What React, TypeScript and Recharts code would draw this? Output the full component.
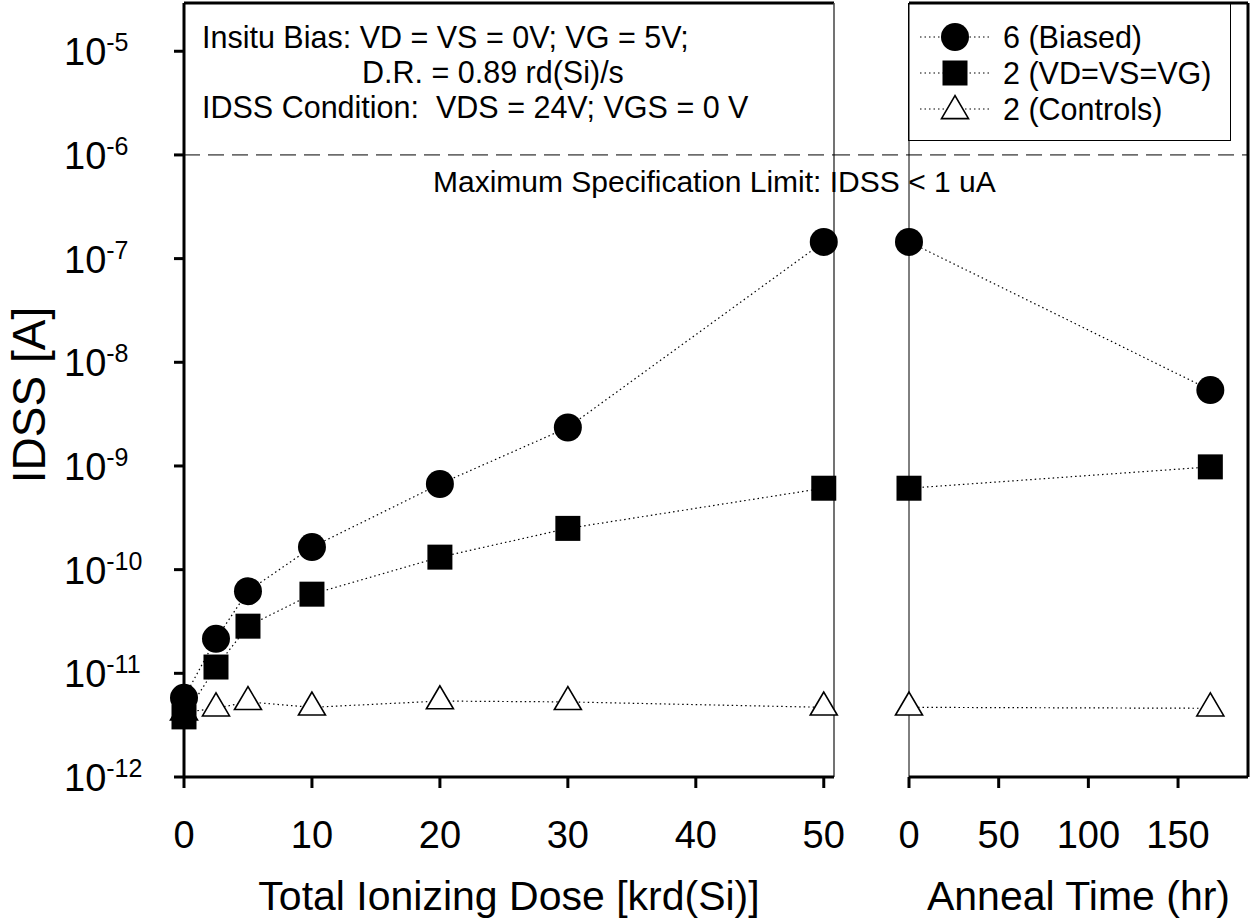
import React from 'react';
import { LineChart, Line, XAxis, YAxis, ReferenceLine, Legend, Label } from 'recharts';

// ---- data ----
const doseKrd = [0, 2.5, 5, 10, 20, 30, 50];
const biasedDose = [5.8e-12, 2.15e-11, 6.2e-11, 1.65e-10, 6.7e-10, 2.35e-9, 1.45e-7];
const groundedDose = [3.8e-12, 1.15e-11, 2.85e-11, 5.8e-11, 1.32e-10, 2.5e-10, 6.1e-10];
const controlsDose = [4.2e-12, 4.6e-12, 5.3e-12, 4.7e-12, 5.4e-12, 5.3e-12, 4.7e-12];

const annealHr = [0, 168];
const biasedAnneal = [1.45e-7, 5.4e-9];
const groundedAnneal = [6.1e-10, 9.8e-10];
const controlsAnneal = [4.7e-12, 4.6e-12];

const yTickExponents = [-12, -11, -10, -9, -8, -7, -6, -5];
const doseTicks = [0, 10, 20, 30, 40, 50];
const annealTicks = [0, 50, 100, 150];

const seriesNames = ['6 (Biased)', '2 (VD=VS=VG)', '2 (Controls)'];
const seriesShapes = ['circle', 'square', 'triangle'];

const specLimit = 1e-6;
const Y_MIN = 1e-12;
const Y_MAX = 2.92e-5;
const DOSE_MAX = 50.8;
const ANNEAL_MAX = 189;

const yTicks = yTickExponents.map((e) => Math.pow(10, e));

const doseRows = doseKrd.map((d, i) => ({
  x: d,
  biased: biasedDose[i],
  grounded: groundedDose[i],
  controls: controlsDose[i],
}));
const annealRows = annealHr.map((t, i) => ({
  x: t,
  biased: biasedAnneal[i],
  grounded: groundedAnneal[i],
  controls: controlsAnneal[i],
}));

const FONT = '"Liberation Sans", Arial, Helvetica, sans-serif';

// ---- marker shapes ----
const Marker = ({ shape, cx, cy }: { shape: string; cx: number; cy: number }) => {
  if (cx == null || cy == null || isNaN(cx) || isNaN(cy)) return null;
  if (shape === 'circle') return <circle cx={cx} cy={cy} r={14} fill="#000" />;
  if (shape === 'square')
    return <rect x={cx - 12.5} y={cy - 12.5} width={25} height={25} fill="#000" />;
  const h = 23;
  const w = 27;
  const pts = `${cx},${cy - (2 * h) / 3} ${cx - w / 2},${cy + h / 3} ${cx + w / 2},${cy + h / 3}`;
  return <polygon points={pts} fill="#fff" stroke="#000" strokeWidth={1.6} />;
};

const dotFor = (shape: string) => (p: any) => (
  <Marker key={`${shape}-${p.index}`} shape={shape} cx={p.cx} cy={p.cy} />
);

const YTick = (props: any) => {
  const { x, y, payload } = props;
  const e = Math.round(Math.log10(payload.value));
  return (
    <text x={x - 108} y={y + 14} fontSize={38} fontFamily={FONT} fill="#000">
      <tspan>10</tspan>
      <tspan fontSize={25} dy={-14}>
        {String(e)}
      </tspan>
    </text>
  );
};

const XTick = (props: any) => {
  const { x, y, payload } = props;
  return (
    <text x={x} y={y + 58} fontSize={38} fontFamily={FONT} fill="#000" textAnchor="middle">
      {payload.value}
    </text>
  );
};

const axisLineStyle = { stroke: '#000', strokeWidth: 3 };
const tickLineStyle = { stroke: '#000', strokeWidth: 3 };
const lineProps = {
  stroke: '#000',
  strokeWidth: 1.2,
  strokeDasharray: '1.5 3',
  isAnimationActive: false,
  type: 'linear' as const,
};

const LegendBox = () => (
  <div
    style={{
      position: 'absolute',
      left: 0,
      top: 0,
      width: 323,
      height: 138,
      border: '1px solid #000',
      boxSizing: 'border-box',
      background: 'transparent',
    }}
  >
    <svg width={321} height={136} style={{ display: 'block' }}>
      {seriesNames.map((n, i) => {
        const cy = 33 + i * 36;
        return (
          <g key={n}>
            <line x1={11} x2={81} y1={cy} y2={cy} stroke="#000" strokeWidth={1.2} strokeDasharray="1.5 3" />
            <Marker shape={seriesShapes[i]} cx={46} cy={i === 2 ? cy + 2 : cy} />
            <text x={94} y={cy + 11} fontSize={30.5} fontFamily={FONT} fill="#000">
              {n}
            </text>
          </g>
        );
      })}
    </svg>
  </div>
);

export default function App() {
  return (
    <div style={{ position: 'absolute', left: 0, top: 0, width: 1250, height: 922, background: '#fff', fontFamily: FONT }}>
      {/* Left panel: dose */}
      <div style={{ position: 'absolute', left: 0, top: 0 }}>
        <LineChart width={850} height={922} data={doseRows} margin={{ top: 3, right: 16, bottom: 0, left: 0 }}>
          <XAxis
            type="number"
            dataKey="x"
            domain={[0, DOSE_MAX]}
            ticks={doseTicks}
            height={145}
            axisLine={axisLineStyle}
            tickLine={tickLineStyle}
            tickSize={11}
            tick={<XTick />}
          >
            <Label
              content={(p: any) => {
                const vb = p.viewBox;
                return (
                  <text x={vb.x + vb.width / 2} y={vb.y + 133} textAnchor="middle" fontSize={41} fontFamily={FONT} fill="#000">
                    Total Ionizing Dose [krd(Si)]
                  </text>
                );
              }}
            />
          </XAxis>
          <YAxis
            type="number"
            scale="log"
            domain={[Y_MIN, Y_MAX]}
            ticks={yTicks}
            width={184}
            axisLine={axisLineStyle}
            tickLine={tickLineStyle}
            tickSize={10}
            tick={<YTick />}
          >
            <Label
              content={(p: any) => {
                const vb = p.viewBox;
                const cx = vb.x + 45;
                const cy = vb.y + vb.height / 2 + 5;
                return (
                  <text x={cx} y={cy} transform={`rotate(-90, ${cx}, ${cy})`} textAnchor="middle" fontSize={46} fontFamily={FONT} fill="#000">
                    IDSS [A]
                  </text>
                );
              }}
            />
          </YAxis>
          <ReferenceLine y={Y_MAX} stroke="#000" strokeWidth={3} ifOverflow="visible" />
          <ReferenceLine x={DOSE_MAX} stroke="#444" strokeWidth={1.5} ifOverflow="visible" />
          <ReferenceLine y={specLimit} stroke="#000" strokeWidth={1} strokeDasharray="16 8" ifOverflow="visible" />
          <Line dataKey="controls" name={seriesNames[2]} {...lineProps} dot={dotFor('triangle')} />
          <Line dataKey="biased" name={seriesNames[0]} {...lineProps} dot={dotFor('circle')} />
          <Line dataKey="grounded" name={seriesNames[1]} {...lineProps} dot={dotFor('square')} />
        </LineChart>
      </div>

      {/* Right panel: anneal */}
      <div style={{ position: 'absolute', left: 834, top: 0 }}>
        <LineChart width={416} height={922} data={annealRows} margin={{ top: 3, right: 2, bottom: 0, left: 75 }}>
          <XAxis
            type="number"
            dataKey="x"
            domain={[0, ANNEAL_MAX]}
            ticks={annealTicks}
            height={145}
            axisLine={axisLineStyle}
            tickLine={tickLineStyle}
            tickSize={11}
            tick={<XTick />}
          >
            <Label
              content={(p: any) => {
                const vb = p.viewBox;
                return (
                  <text x={vb.x + vb.width / 2} y={vb.y + 133} textAnchor="middle" fontSize={41} fontFamily={FONT} fill="#000">
                    Anneal Time (hr)
                  </text>
                );
              }}
            />
          </XAxis>
          <YAxis type="number" scale="log" domain={[Y_MIN, Y_MAX]} ticks={yTicks} hide width={0} />
          <ReferenceLine y={Y_MAX} stroke="#000" strokeWidth={3} ifOverflow="visible" />
          <ReferenceLine x={ANNEAL_MAX} stroke="#000" strokeWidth={3} ifOverflow="visible" />
          <ReferenceLine
            segment={[
              { x: -41.8, y: specLimit },
              { x: ANNEAL_MAX, y: specLimit },
            ]}
            stroke="#000"
            strokeWidth={1}
            strokeDasharray="16 8"
            ifOverflow="visible"
          />
          <Line dataKey="controls" name={seriesNames[2]} {...lineProps} dot={dotFor('triangle')} />
          <Line dataKey="biased" name={seriesNames[0]} {...lineProps} dot={dotFor('circle')} />
          <Line dataKey="grounded" name={seriesNames[1]} {...lineProps} dot={dotFor('square')} />
          <ReferenceLine x={0} stroke="#000" strokeWidth={1} ifOverflow="visible" />
          <Legend
            content={() => <LegendBox />}
            wrapperStyle={{ position: 'absolute', left: 74, top: 3, width: 0, height: 0, margin: 0, padding: 0, overflow: 'visible' }}
          />
        </LineChart>
      </div>

      {/* Annotations */}
      <svg width={1250} height={922} style={{ position: 'absolute', left: 0, top: 0, pointerEvents: 'none' }}>
        <text x={202} y={48} fontSize={30.5} fontFamily={FONT} fill="#000">
          Insitu Bias: VD = VS = 0V; VG = 5V;
        </text>
        <text x={362} y={83} fontSize={30.5} fontFamily={FONT} fill="#000">
          D.R. = 0.89 rd(Si)/s
        </text>
        <text x={202} y={118} fontSize={30.5} fontFamily={FONT} fill="#000" style={{ whiteSpace: 'pre' }}>
          {'IDSS Condition:  VDS = 24V; VGS = 0 V'}
        </text>
        <text x={433} y={192} fontSize={30} fontFamily={FONT} fill="#000">
          Maximum Specification Limit: IDSS &lt; 1 uA
        </text>
      </svg>
    </div>
  );
}
